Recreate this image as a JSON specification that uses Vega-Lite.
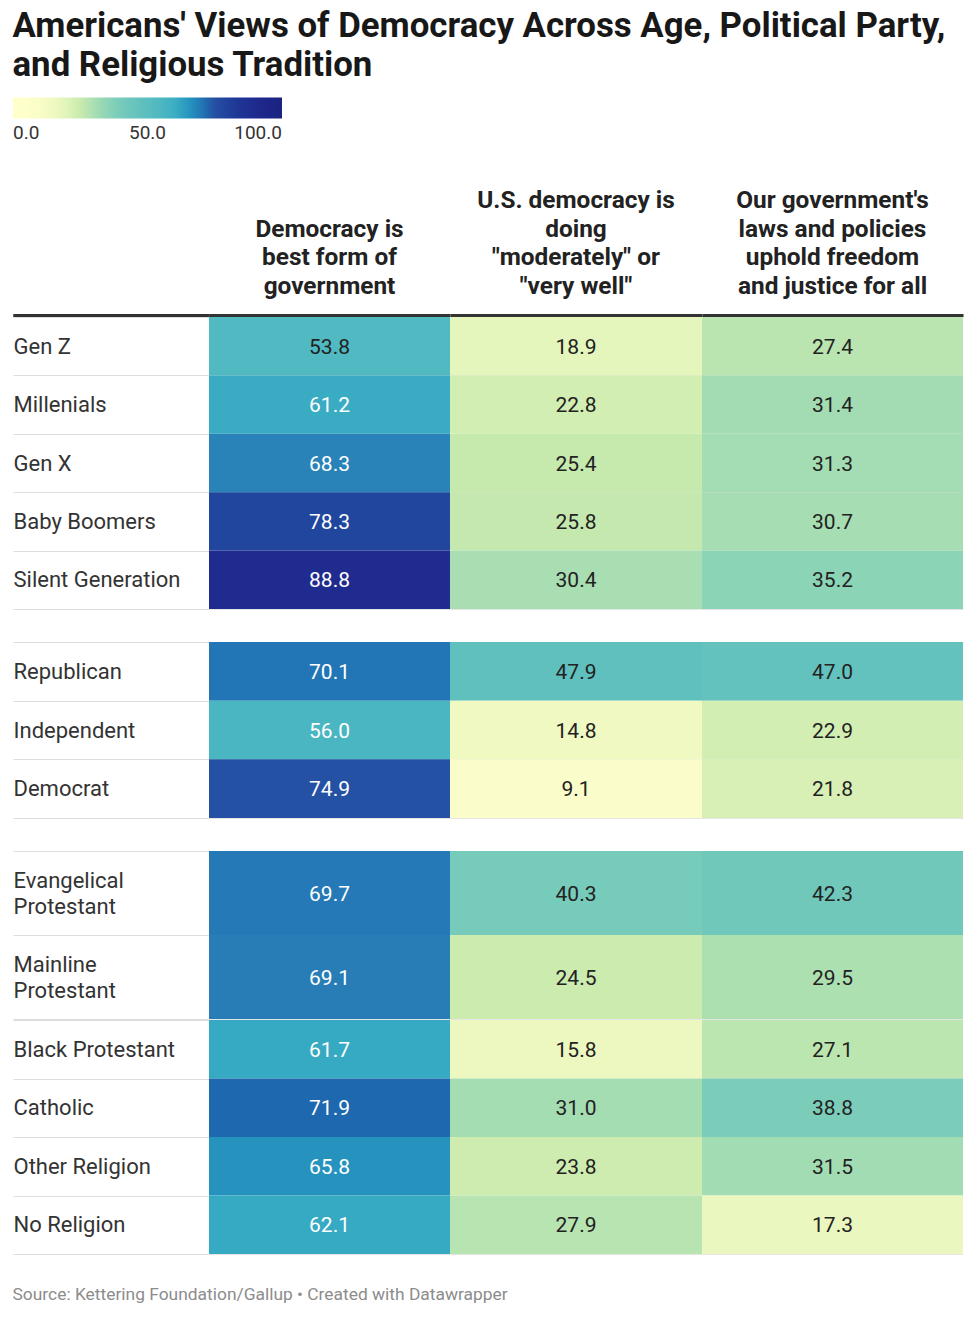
{
  "$schema": "https://vega.github.io/schema/vega-lite/v6.json",
  "description": "Heat table of Americans' views of democracy by age, party and religious tradition.",
  "padding": {"left": 11, "top": 8, "right": 17, "bottom": 10},
  "title": {
    "text": ["Americans' Views of Democracy Across Age, Political Party,", "and Religious Tradition"],
    "anchor": "start",
    "frame": "bounds",
    "font": "Roboto",
    "fontSize": 34.8,
    "fontWeight": 700,
    "color": "#181818",
    "lineHeight": 39,
    "offset": 14,
    "dx": 1
  },
  "datasets": {
    "headers": [
      {"question": "best", "line": 2, "text": "Democracy is"},
      {"question": "best", "line": 3, "text": "best form of"},
      {"question": "best", "line": 4, "text": "government"},
      {"question": "doing", "line": 1, "text": "U.S. democracy is"},
      {"question": "doing", "line": 2, "text": "doing"},
      {"question": "doing", "line": 3, "text": "\"moderately\" or"},
      {"question": "doing", "line": 4, "text": "\"very well\""},
      {"question": "laws", "line": 1, "text": "Our government's"},
      {"question": "laws", "line": 2, "text": "laws and policies"},
      {"question": "laws", "line": 3, "text": "uphold freedom"},
      {"question": "laws", "line": 4, "text": "and justice for all"}
    ],
    "cells": [
      {"group": "age", "row": "Gen Z", "question": "best", "value": 53.8},
      {"group": "age", "row": "Millenials", "question": "best", "value": 61.2},
      {"group": "age", "row": "Gen X", "question": "best", "value": 68.3},
      {"group": "age", "row": "Baby Boomers", "question": "best", "value": 78.3},
      {"group": "age", "row": "Silent Generation", "question": "best", "value": 88.8},
      {"group": "age", "row": "Gen Z", "question": "doing", "value": 18.9},
      {"group": "age", "row": "Millenials", "question": "doing", "value": 22.8},
      {"group": "age", "row": "Gen X", "question": "doing", "value": 25.4},
      {"group": "age", "row": "Baby Boomers", "question": "doing", "value": 25.8},
      {"group": "age", "row": "Silent Generation", "question": "doing", "value": 30.4},
      {"group": "age", "row": "Gen Z", "question": "laws", "value": 27.4},
      {"group": "age", "row": "Millenials", "question": "laws", "value": 31.4},
      {"group": "age", "row": "Gen X", "question": "laws", "value": 31.3},
      {"group": "age", "row": "Baby Boomers", "question": "laws", "value": 30.7},
      {"group": "age", "row": "Silent Generation", "question": "laws", "value": 35.2},
      {"group": "party", "row": "Republican", "question": "best", "value": 70.1},
      {"group": "party", "row": "Independent", "question": "best", "value": 56.0},
      {"group": "party", "row": "Democrat", "question": "best", "value": 74.9},
      {"group": "party", "row": "Republican", "question": "doing", "value": 47.9},
      {"group": "party", "row": "Independent", "question": "doing", "value": 14.8},
      {"group": "party", "row": "Democrat", "question": "doing", "value": 9.1},
      {"group": "party", "row": "Republican", "question": "laws", "value": 47.0},
      {"group": "party", "row": "Independent", "question": "laws", "value": 22.9},
      {"group": "party", "row": "Democrat", "question": "laws", "value": 21.8},
      {"group": "protestant", "row": "Evangelical Protestant", "question": "best", "value": 69.7},
      {"group": "protestant", "row": "Mainline Protestant", "question": "best", "value": 69.1},
      {"group": "protestant", "row": "Evangelical Protestant", "question": "doing", "value": 40.3},
      {"group": "protestant", "row": "Mainline Protestant", "question": "doing", "value": 24.5},
      {"group": "protestant", "row": "Evangelical Protestant", "question": "laws", "value": 42.3},
      {"group": "protestant", "row": "Mainline Protestant", "question": "laws", "value": 29.5},
      {"group": "religion", "row": "Black Protestant", "question": "best", "value": 61.7},
      {"group": "religion", "row": "Catholic", "question": "best", "value": 71.9},
      {"group": "religion", "row": "Other Religion", "question": "best", "value": 65.8},
      {"group": "religion", "row": "No Religion", "question": "best", "value": 62.1},
      {"group": "religion", "row": "Black Protestant", "question": "doing", "value": 15.8},
      {"group": "religion", "row": "Catholic", "question": "doing", "value": 31.0},
      {"group": "religion", "row": "Other Religion", "question": "doing", "value": 23.8},
      {"group": "religion", "row": "No Religion", "question": "doing", "value": 27.9},
      {"group": "religion", "row": "Black Protestant", "question": "laws", "value": 27.1},
      {"group": "religion", "row": "Catholic", "question": "laws", "value": 38.8},
      {"group": "religion", "row": "Other Religion", "question": "laws", "value": 31.5},
      {"group": "religion", "row": "No Religion", "question": "laws", "value": 17.3}
    ]
  },
  "vconcat": [
    {
      "spacing": -11.5,
      "vconcat": [
        {
          "spacing": 0,
          "hconcat": [
            {
              "width": 241, "height": 114,
              "layer": [
                {
                  "data": {"name": "cells"},
                  "mark": {"type": "rect", "opacity": 0},
                  "encoding": {"color": {"field": "value", "type": "quantitative", "scale": {"domain": [0, 100]}, "legend": {"orient": "none", "legendX": -196, "legendY": -103.5, "direction": "horizontal", "gradientLength": 269, "gradientThickness": 21, "values": [0, 50, 100], "format": ".1f", "title": null, "labelFont": "Roboto", "labelFontSize": 19, "labelOffset": 5, "labelColor": "#333333"}}}
                },
                {
                  "data": {"name": "headers"},
                  "transform": [{"filter": "datum.question == 'best'"}],
                  "mark": {"type": "text", "dy": 0, "fontSize": 24.4, "fontWeight": 700, "color": "#222222"},
                  "encoding": {
                    "x": {"field": "question", "type": "nominal", "title": null},
                    "y": {"field": "line", "type": "ordinal", "title": null, "scale": {"type": "point", "padding": 0, "domain": [1, 2, 3, 4, 5]}, "axis": {"values": [5], "grid": false, "ticks": true, "tickSize": 196, "tickWidth": 3, "tickColor": "#333333"}},
                    "text": {"field": "text"}
                  }
                }
              ]
            },
            {
              "width": 252, "height": 114,
              "data": {"name": "headers"},
              "transform": [{"filter": "datum.question == 'doing'"}],
              "mark": {"type": "text", "dy": -14, "fontSize": 24.4, "fontWeight": 700, "color": "#222222"},
              "encoding": {
                "x": {"field": "question", "type": "nominal", "title": null},
                "y": {"field": "line", "type": "ordinal", "scale": {"domain": [1, 2, 3, 4]}, "axis": null},
                "text": {"field": "text"}
              }
            },
            {
              "width": 261, "height": 114,
              "data": {"name": "headers"},
              "transform": [{"filter": "datum.question == 'laws'"}],
              "mark": {"type": "text", "dy": -14, "fontSize": 24.4, "fontWeight": 700, "color": "#222222"},
              "encoding": {
                "x": {"field": "question", "type": "nominal", "title": null},
                "y": {"field": "line", "type": "ordinal", "scale": {"domain": [1, 2, 3, 4]}, "axis": null},
                "text": {"field": "text"}
              }
            }
          ]
        },
        {
          "spacing": 0,
          "hconcat": [
            {
              "width": 241, "height": 292,
              "data": {"name": "cells"},
              "transform": [{"filter": "datum.group == 'age' && datum.question == 'best'"}],
              "encoding": {"y": {"field": "row", "type": "nominal", "sort": null, "title": null, "axis": {"labels": true, "ticks": true, "tickSize": 196, "tickColor": "#dddddd", "labelPadding": 0, "labelAlign": "left", "labelLimit": 195}}},
              "layer": [
                {"mark": "rect", "encoding": {"color": {"field": "value", "type": "quantitative", "scale": {"domain": [0, 100]}, "legend": null}}},
                {"mark": "text", "encoding": {"text": {"field": "value", "format": ".1f"}, "color": {"condition": {"test": "datum.value > 55", "value": "#ffffff"}, "value": "#222222"}}}
              ]
            },
            {
              "width": 252, "height": 292,
              "data": {"name": "cells"},
              "transform": [{"filter": "datum.group == 'age' && datum.question == 'doing'"}],
              "encoding": {"y": {"field": "row", "type": "nominal", "sort": null, "title": null}},
              "layer": [
                {"mark": "rect", "encoding": {"color": {"field": "value", "type": "quantitative", "scale": {"domain": [0, 100]}, "legend": null}}},
                {"mark": "text", "encoding": {"text": {"field": "value", "format": ".1f"}, "color": {"condition": {"test": "datum.value > 55", "value": "#ffffff"}, "value": "#222222"}}}
              ]
            },
            {
              "width": 261, "height": 292,
              "data": {"name": "cells"},
              "transform": [{"filter": "datum.group == 'age' && datum.question == 'laws'"}],
              "encoding": {"y": {"field": "row", "type": "nominal", "sort": null, "title": null}},
              "layer": [
                {"mark": "rect", "encoding": {"color": {"field": "value", "type": "quantitative", "scale": {"domain": [0, 100]}, "legend": null}}},
                {"mark": "text", "encoding": {"text": {"field": "value", "format": ".1f"}, "color": {"condition": {"test": "datum.value > 55", "value": "#ffffff"}, "value": "#222222"}}}
              ]
            }
          ]
        }
      ]
    },
    {
      "spacing": 0,
      "hconcat": [
        {
          "width": 241, "height": 176,
          "data": {"name": "cells"},
          "transform": [{"filter": "datum.group == 'party' && datum.question == 'best'"}],
          "encoding": {"y": {"field": "row", "type": "nominal", "sort": null, "title": null, "axis": {"labels": true, "ticks": true, "tickSize": 196, "tickColor": "#dddddd", "labelPadding": 0, "labelAlign": "left", "labelLimit": 195}}},
          "layer": [
            {"mark": "rect", "encoding": {"color": {"field": "value", "type": "quantitative", "scale": {"domain": [0, 100]}, "legend": null}}},
            {"mark": "text", "encoding": {"text": {"field": "value", "format": ".1f"}, "color": {"condition": {"test": "datum.value > 55", "value": "#ffffff"}, "value": "#222222"}}}
          ]
        },
        {
          "width": 252, "height": 176,
          "data": {"name": "cells"},
          "transform": [{"filter": "datum.group == 'party' && datum.question == 'doing'"}],
          "encoding": {"y": {"field": "row", "type": "nominal", "sort": null, "title": null}},
          "layer": [
            {"mark": "rect", "encoding": {"color": {"field": "value", "type": "quantitative", "scale": {"domain": [0, 100]}, "legend": null}}},
            {"mark": "text", "encoding": {"text": {"field": "value", "format": ".1f"}, "color": {"condition": {"test": "datum.value > 55", "value": "#ffffff"}, "value": "#222222"}}}
          ]
        },
        {
          "width": 261, "height": 176,
          "data": {"name": "cells"},
          "transform": [{"filter": "datum.group == 'party' && datum.question == 'laws'"}],
          "encoding": {"y": {"field": "row", "type": "nominal", "sort": null, "title": null}},
          "layer": [
            {"mark": "rect", "encoding": {"color": {"field": "value", "type": "quantitative", "scale": {"domain": [0, 100]}, "legend": null}}},
            {"mark": "text", "encoding": {"text": {"field": "value", "format": ".1f"}, "color": {"condition": {"test": "datum.value > 55", "value": "#ffffff"}, "value": "#222222"}}}
          ]
        }
      ]
    },
    {
      "spacing": -12.5,
      "title": {"text": "Source: Kettering Foundation/Gallup • Created with Datawrapper", "orient": "bottom", "anchor": "start", "frame": "bounds", "font": "Roboto", "fontSize": 17.4, "fontWeight": 400, "color": "#8c8c8c", "offset": 31},
      "vconcat": [
        {
          "spacing": 0,
          "hconcat": [
            {
              "width": 241, "height": 168,
              "data": {"name": "cells"},
              "transform": [{"filter": "datum.group == 'protestant' && datum.question == 'best'"}],
              "encoding": {"y": {"field": "row", "type": "nominal", "sort": null, "title": null, "axis": {"labels": true, "ticks": true, "tickSize": 196, "tickColor": "#dddddd", "labelPadding": 0, "labelAlign": "left", "labelLimit": 195, "labelLineHeight": 26, "labelOffset": -13, "labelExpr": "split(datum.label, ' ')"}}},
              "layer": [
                {"mark": "rect", "encoding": {"color": {"field": "value", "type": "quantitative", "scale": {"domain": [0, 100]}, "legend": null}}},
                {"mark": "text", "encoding": {"text": {"field": "value", "format": ".1f"}, "color": {"condition": {"test": "datum.value > 55", "value": "#ffffff"}, "value": "#222222"}}}
              ]
            },
            {
              "width": 252, "height": 168,
              "data": {"name": "cells"},
              "transform": [{"filter": "datum.group == 'protestant' && datum.question == 'doing'"}],
              "encoding": {"y": {"field": "row", "type": "nominal", "sort": null, "title": null}},
              "layer": [
                {"mark": "rect", "encoding": {"color": {"field": "value", "type": "quantitative", "scale": {"domain": [0, 100]}, "legend": null}}},
                {"mark": "text", "encoding": {"text": {"field": "value", "format": ".1f"}, "color": {"condition": {"test": "datum.value > 55", "value": "#ffffff"}, "value": "#222222"}}}
              ]
            },
            {
              "width": 261, "height": 168,
              "data": {"name": "cells"},
              "transform": [{"filter": "datum.group == 'protestant' && datum.question == 'laws'"}],
              "encoding": {"y": {"field": "row", "type": "nominal", "sort": null, "title": null}},
              "layer": [
                {"mark": "rect", "encoding": {"color": {"field": "value", "type": "quantitative", "scale": {"domain": [0, 100]}, "legend": null}}},
                {"mark": "text", "encoding": {"text": {"field": "value", "format": ".1f"}, "color": {"condition": {"test": "datum.value > 55", "value": "#ffffff"}, "value": "#222222"}}}
              ]
            }
          ]
        },
        {
          "spacing": 0,
          "hconcat": [
            {
              "width": 241, "height": 234,
              "data": {"name": "cells"},
              "transform": [{"filter": "datum.group == 'religion' && datum.question == 'best'"}],
              "encoding": {"y": {"field": "row", "type": "nominal", "sort": null, "title": null, "axis": {"labels": true, "ticks": true, "tickSize": 196, "tickColor": "#dddddd", "labelPadding": 0, "labelAlign": "left", "labelLimit": 195}}},
              "layer": [
                {"mark": "rect", "encoding": {"color": {"field": "value", "type": "quantitative", "scale": {"domain": [0, 100]}, "legend": null}}},
                {"mark": "text", "encoding": {"text": {"field": "value", "format": ".1f"}, "color": {"condition": {"test": "datum.value > 55", "value": "#ffffff"}, "value": "#222222"}}}
              ]
            },
            {
              "width": 252, "height": 234,
              "data": {"name": "cells"},
              "transform": [{"filter": "datum.group == 'religion' && datum.question == 'doing'"}],
              "encoding": {"y": {"field": "row", "type": "nominal", "sort": null, "title": null}},
              "layer": [
                {"mark": "rect", "encoding": {"color": {"field": "value", "type": "quantitative", "scale": {"domain": [0, 100]}, "legend": null}}},
                {"mark": "text", "encoding": {"text": {"field": "value", "format": ".1f"}, "color": {"condition": {"test": "datum.value > 55", "value": "#ffffff"}, "value": "#222222"}}}
              ]
            },
            {
              "width": 261, "height": 234,
              "data": {"name": "cells"},
              "transform": [{"filter": "datum.group == 'religion' && datum.question == 'laws'"}],
              "encoding": {"y": {"field": "row", "type": "nominal", "sort": null, "title": null}},
              "layer": [
                {"mark": "rect", "encoding": {"color": {"field": "value", "type": "quantitative", "scale": {"domain": [0, 100]}, "legend": null}}},
                {"mark": "text", "encoding": {"text": {"field": "value", "format": ".1f"}, "color": {"condition": {"test": "datum.value > 55", "value": "#ffffff"}, "value": "#222222"}}}
              ]
            }
          ]
        }
      ]
    }
  ],
  "spacing": 21,
  "config": {
    "font": "Roboto",
    "view": {"stroke": null},
    "scale": {"bandPaddingInner": 0, "bandPaddingOuter": 0},
    "range": {"heatmap": ["#ffffcc", "#feffcb", "#f5fbc6", "#e6f6bc", "#c9eaae", "#a4dcb3", "#7fcfb8", "#6cc6bc", "#5bbdbf", "#49b6c2", "#35a8c3", "#2a80b8", "#2450a3", "#213c99", "#1f2c90", "#1e278a", "#1a237e"]},
    "text": {"font": "Roboto", "fontSize": 21, "dy": 1.5},
    "axisX": {"domain": true, "domainWidth": 3, "domainColor": "#333333", "ticks": false, "labels": false, "grid": false},
    "axisY": {"domain": false, "grid": true, "gridColor": "#000000", "gridOpacity": 0.1, "tickBand": "extent", "ticks": false, "labels": false, "zindex": 1, "labelFont": "Roboto", "labelFontSize": 22, "labelFontWeight": 400, "labelColor": "#333333"}
  }
}
